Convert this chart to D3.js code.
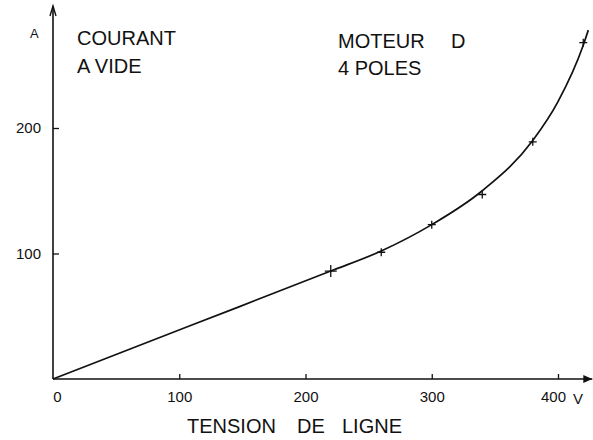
<!DOCTYPE html>
<html>
<head>
<meta charset="utf-8">
<script src="https://cdn.jsdelivr.net/npm/d3@7"></script>
<style>
  body { margin: 0; background: #fff; }
  text { font-family: "Liberation Sans", Arial, sans-serif; fill: #111; }
</style>
</head>
<body>
<div id="chart"></div>
<script>
// measured points (volts, amps)
const pointV = [220, 260, 300, 340, 380, 420];
const pointA = [86, 101, 123, 147, 189, 268];

// hand-drawn curve through the measurements
const curveV = [0, 110, 220, 260, 300, 340, 380, 400, 420, 424];
const curveA = [0, 43, 86, 102, 123, 150, 190, 221, 266, 278];

const xTicks = [0, 100, 200, 300, 400];
const yTicks = [100, 200];

const width = 593, height = 440;

const svg = d3.select("#chart")
  .append("svg")
  .attr("width", width)
  .attr("height", height);

const x = d3.scaleLinear().domain([0, 400]).range([53, 558]);
const y = d3.scaleLinear().domain([0, 200]).range([379, 128]);

// axes (ticks only, domain lines drawn by hand with arrows)
const xAxis = svg.append("g")
  .attr("transform", "translate(0," + y(0) + ")")
  .call(d3.axisBottom(x).tickValues(xTicks).tickSize(-5).tickPadding(12));
xAxis.select(".domain").remove();
xAxis.selectAll("line").attr("stroke", "#111").attr("stroke-width", 1.3);
xAxis.selectAll(".tick").filter(d => d === 0).select("line").remove();
xAxis.selectAll(".tick").filter(d => d === 0).select("text").attr("dx", 4);
xAxis.selectAll(".tick").filter(d => d === 400).select("text").attr("dx", -5);
xAxis.selectAll("text").style("font-size", "15px").attr("fill", "#111");

const yAxis = svg.append("g")
  .attr("transform", "translate(" + x(0) + ",0)")
  .call(d3.axisLeft(y).tickValues(yTicks).tickSize(-6).tickPadding(12));
yAxis.select(".domain").remove();
yAxis.selectAll("line").attr("stroke", "#111").attr("stroke-width", 1.3);
yAxis.selectAll("text").style("font-size", "15px").attr("fill", "#111");

// axis lines with arrows
const xEnd = x(424) + 4, yTop = 6;
svg.append("line")
  .attr("x1", x(0)).attr("y1", y(0)).attr("x2", xEnd).attr("y2", y(0))
  .attr("stroke", "#111").attr("stroke-width", 1.6);
svg.append("path")
  .attr("d", `M${xEnd - 9},${y(0) - 4} L${xEnd},${y(0)} L${xEnd - 9},${y(0) + 4} Z`)
  .attr("fill", "#111");
svg.append("line")
  .attr("x1", x(0)).attr("y1", y(0)).attr("x2", x(0)).attr("y2", yTop)
  .attr("stroke", "#111").attr("stroke-width", 1.6);
svg.append("path")
  .attr("d", `M${x(0) - 3},${yTop + 10} L${x(0)},${yTop} L${x(0) + 3},${yTop + 10}`)
  .attr("fill", "none").attr("stroke", "#111").attr("stroke-width", 1.4);

// curve
const line = d3.line()
  .x(i => x(curveV[i]))
  .y(i => y(curveA[i]))
  .curve(d3.curveMonotoneX);
svg.append("path")
  .attr("d", line(d3.range(curveV.length)))
  .attr("fill", "none")
  .attr("stroke", "#111")
  .attr("stroke-width", 1.7);

// point crosses
svg.selectAll(".pt")
  .data(d3.range(pointV.length))
  .enter()
  .append("path")
  .attr("class", "pt")
  .attr("d", i => {
    const cx = x(pointV[i]), cy = y(pointA[i]), s = i === 0 ? 6 : 4;
    return `M${cx - s},${cy} L${cx + s},${cy} M${cx},${cy - s} L${cx},${cy + s}`;
  })
  .attr("stroke", "#111")
  .attr("stroke-width", 1.3);

// labels
svg.append("text").attr("x", 30).attr("y", 38).style("font-size", "13px").text("A");
svg.append("text").attr("x", 573).attr("y", 404).style("font-size", "15px").text("V");

svg.append("text").attr("x", 77).attr("y", 45).style("font-size", "20px").text("COURANT");
svg.append("text").attr("x", 77).attr("y", 73).style("font-size", "20px").text("A VIDE");
svg.append("text").attr("x", 338).attr("y", 48).style("font-size", "20px").text("MOTEUR");
svg.append("text").attr("x", 451).attr("y", 48).style("font-size", "20px").text("D");
svg.append("text").attr("x", 338).attr("y", 75).style("font-size", "20px").text("4 POLES");

svg.append("text").attr("x", 187).attr("y", 433).style("font-size", "20px").text("TENSION");
svg.append("text").attr("x", 297).attr("y", 433).style("font-size", "20px").text("DE");
svg.append("text").attr("x", 342).attr("y", 433).style("font-size", "20px").text("LIGNE");
</script>
</body>
</html>
